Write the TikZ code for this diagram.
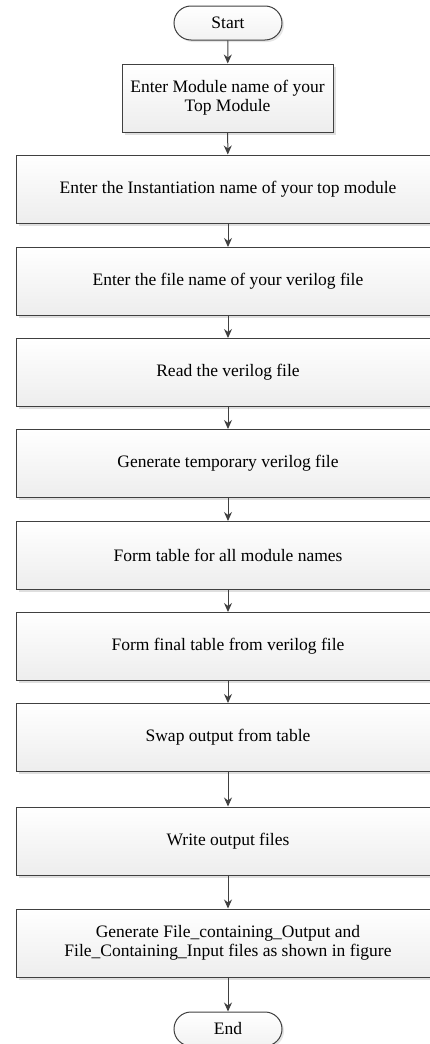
\documentclass[tikz,border=0pt]{standalone}
\usepackage{fontspec}
\setmainfont{Liberation Serif}
\usetikzlibrary{shadows,arrows.meta}
\definecolor{edge}{HTML}{404040}
\tikzset{
  x=1pt, y=-1pt,
  procbox/.style={draw=edge, line width=1pt, rectangle, align=center,
    top color=white, bottom color=gray!14,
    drop shadow={shadow xshift=2.5pt, shadow yshift=-2.5pt, fill=gray!50, opacity=0.5},
    font=\fontsize{17.5}{19}\selectfont, inner sep=2pt, minimum height=68pt},
  widebox/.style={procbox, minimum width=424pt},
  termbox/.style={draw=edge, line width=1pt, rounded corners=17pt,
    top color=white, bottom color=gray!10,
    drop shadow={shadow xshift=2pt, shadow yshift=-2pt, fill=gray!50, opacity=0.4},
    minimum width=108pt, minimum height=34pt, font=\fontsize{17.5}{19}\selectfont},
  flow/.style={draw=edge, line width=1pt, -{Stealth[length=9pt,width=8pt]}}
}
\begin{document}
\begin{tikzpicture}
\useasboundingbox (0,0) rectangle (430,1044);
\node[termbox] (start) at (228,23) {Start};
\node[procbox, minimum width=211pt] (b1) at (227.5,98) {Enter Module name of your\\Top Module};
\node[widebox] (b2) at (228,189) {Enter the Instantiation name of your top module};
\node[widebox] (b3) at (228,281.5) {Enter the file name of your verilog file};
\node[widebox] (b4) at (228,372.5) {Read the verilog file};
\node[widebox] (b5) at (228,463.5) {Generate temporary verilog file};
\node[widebox] (b6) at (228,555.5) {Form table for all module names};
\node[widebox] (b7) at (228,646.5) {Form final table from verilog file};
\node[widebox] (b8) at (228,737.5) {Swap output from table};
\node[widebox] (b9) at (228,841) {Write output files};
\node[widebox] (b10) at (228,943) {Generate File\_containing\_Output and\\File\_Containing\_Input files as shown in figure};
\node[termbox] (end) at (228,1029) {End};
\foreach \a/\b in {start/b1, b1/b2, b2/b3, b3/b4, b4/b5, b5/b6, b6/b7, b7/b8, b8/b9, b9/b10, b10/end}
  \draw[flow] (\a) -- (\b);
\end{tikzpicture}
\end{document}
